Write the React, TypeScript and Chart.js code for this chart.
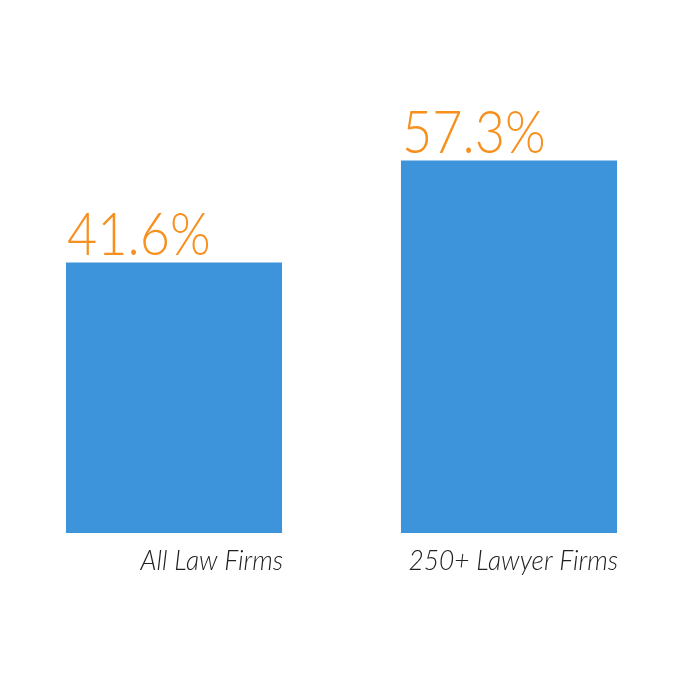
import React, { useEffect, useRef } from "react";
import { Chart, registerables } from "chart.js";

Chart.register(...registerables);

const categories = ["All Law Firms", "250+ Lawyer Firms"];
const values = [41.6, 57.3];
const valueLabels = ["41.6%", "57.3%"];

const labelPlugin = {
  id: "barLabels",
  afterDatasetsDraw(chart: any) {
    const ctx = chart.ctx;
    const meta = chart.getDatasetMeta(0);
    ctx.save();
    meta.data.forEach((bar: any, i: number) => {
      const left = bar.x - bar.width / 2;
      const right = bar.x + bar.width / 2;
      ctx.fillStyle = "#f7901e";
      ctx.font = "300 60px Lato";
      ctx.textAlign = "left";
      ctx.textBaseline = "alphabetic";
      const w1 = ctx.measureText(valueLabels[i]).width;
      ctx.fillText(valueLabels[i], left + 1, bar.y - 8, w1 * 0.87);
      ctx.fillStyle = "#222222";
      ctx.font = "italic 300 28px Lato";
      ctx.textAlign = "right";
      const w2 = ctx.measureText(categories[i]).width;
      ctx.fillText(categories[i], right + 1, bar.base + 37, w2 * 0.94);
    });
    ctx.restore();
  },
};

export default function App() {
  const ref = useRef<HTMLCanvasElement>(null);
  useEffect(() => {
    if (!ref.current) return;
    const chart = new Chart(ref.current, {
      type: "bar",
      data: {
        labels: categories,
        datasets: [
          {
            data: values,
            backgroundColor: "#3d94db",
            barPercentage: 0.645,
            categoryPercentage: 1,
          },
        ],
      },
      options: {
        responsive: false,
        animation: false,
        layout: { padding: { left: 6.5, right: 23.5, top: 78, bottom: 167 } },
        plugins: { legend: { display: false }, tooltip: { enabled: false } },
        scales: {
          x: { display: false },
          y: { display: false, min: 0, max: 70 },
        },
      },
      plugins: [labelPlugin],
    });
    return () => chart.destroy();
  }, []);
  return (
    <div style={{ position: "absolute", left: 0, top: 0, width: 700, height: 700, background: "#fff" }}>
      <canvas ref={ref} width={700} height={700} />
    </div>
  );
}
